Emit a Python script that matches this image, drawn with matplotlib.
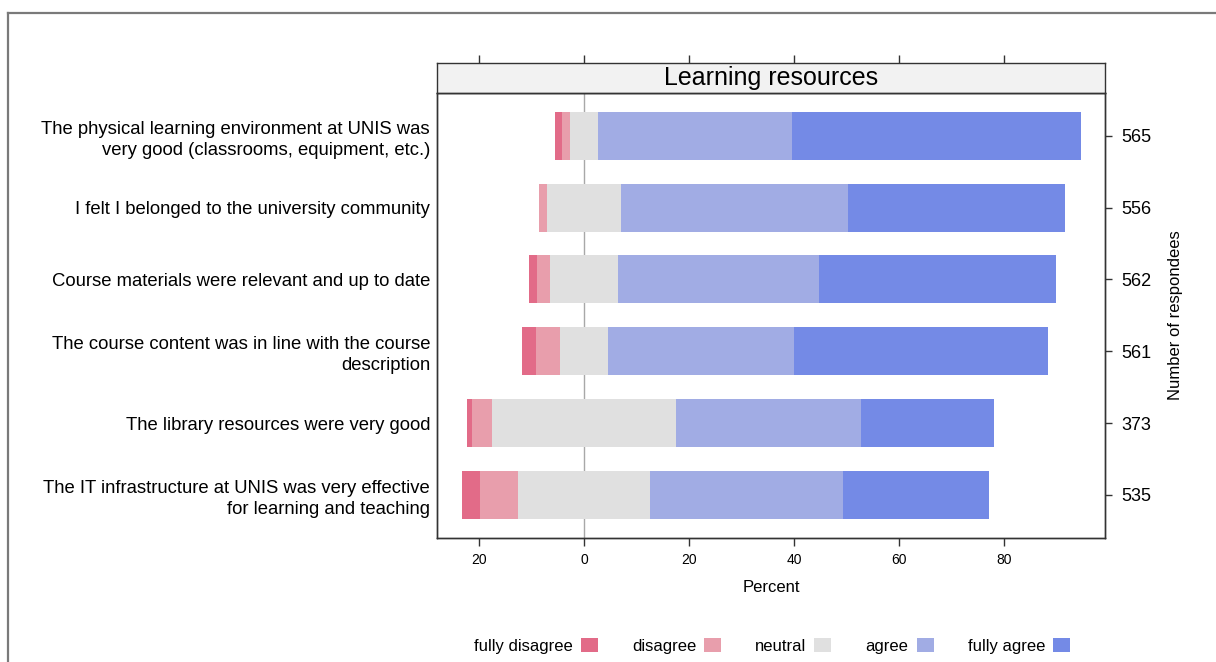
import numpy as np
import matplotlib
matplotlib.use("Agg")
import matplotlib.pyplot as plt
from matplotlib.ticker import FuncFormatter
from matplotlib.lines import Line2D
from matplotlib.patches import Patch

plt.rcParams['font.family'] = ['Liberation Sans', 'DejaVu Sans']

# Survey items, top to bottom as shown
questions = [
    "The physical learning environment at UNIS was\nvery good (classrooms, equipment, etc.)",
    "I felt I belonged to the university community",
    "Course materials were relevant and up to date",
    "The course content was in line with the course\ndescription",
    "The library resources were very good",
    "The IT infrastructure at UNIS was very effective\nfor learning and teaching",
]
respondents = [565, 556, 562, 561, 373, 535]

# Percent of answers per level
levels = ["fully disagree", "disagree", "neutral", "agree", "fully agree"]
fully_disagree = [1.4, 0.0, 1.4, 2.7, 1.0, 3.4]
disagree = [1.5, 1.6, 2.6, 4.6, 3.7, 7.1]
neutral = [5.3, 14.0, 12.9, 9.0, 35.2, 25.3]
agree = [37.0, 43.2, 38.2, 35.5, 35.2, 36.6]
fully_agree = [55.0, 41.4, 45.2, 48.4, 25.2, 27.9]

colors = ["#E26B88", "#E89EAC", "#E0E0E0", "#A1ACE4", "#748AE6"]
edge = "#333333"

W, H = 1216, 662
fig = plt.figure(figsize=(W / 100, H / 100), dpi=100)

# outer frame (top and left only)
fig.add_artist(Line2D([8 / W, 1], [1 - 13 / H] * 2, transform=fig.transFigure, color="#7a7a7a", lw=1.6))
fig.add_artist(Line2D([8 / W] * 2, [0, 1 - 13 / H], transform=fig.transFigure, color="#7a7a7a", lw=1.6))

L, R = 437 / W, 1105 / W
ax = fig.add_axes([L, 1 - 538 / H, R - L, (538 - 92.7) / H])
strip = fig.add_axes([L, 1 - 92.7 / H, R - L, (92.7 - 62.7) / H], sharex=ax)

data = np.array([fully_disagree, disagree, neutral, agree, fully_agree])
n = len(questions)
ypos = np.arange(n)[::-1]

ax.axvline(0, color="#A8A8A8", lw=1, zorder=0)
for i in range(n):
    left = -(data[0, i] + data[1, i] + data[2, i] / 2)
    for k in range(len(levels)):
        ax.barh(ypos[i], data[k, i], left=left, height=0.67, color=colors[k], edgecolor="none", zorder=2)
        left += data[k, i]

ax.set_xlim(-28, 99.2)
ax.set_ylim(-0.6, n - 0.4)
ax.set_xticks([-20, 0, 20, 40, 60, 80])
ax.xaxis.set_major_formatter(FuncFormatter(lambda v, p: f"{abs(v):.0f}"))
ax.tick_params(axis="x", direction="out", length=5.5, width=1, pad=5, labelsize=10, color=edge)
ax.set_yticks(ypos)
ax.set_yticklabels(questions, fontsize=13.3, linespacing=1.3)
ax.tick_params(axis="y", length=0, pad=5)
ax.set_xlabel("Percent", fontsize=12, labelpad=10)
for s in ax.spines.values():
    s.set_color(edge)
    s.set_linewidth(1)

ax2 = ax.twinx()
ax2.set_ylim(ax.get_ylim())
ax2.set_yticks(ypos)
ax2.set_yticklabels([str(r) for r in respondents], fontsize=13)
ax2.tick_params(axis="y", direction="out", length=5, width=1, pad=7, color=edge)
ax2.set_ylabel("Number of respondees", fontsize=12, labelpad=12)
for s in ax2.spines.values():
    s.set_color(edge)
    s.set_linewidth(1)

# strip with panel title
strip.set_facecolor("#F2F2F2")
strip.xaxis.tick_top()
strip.tick_params(axis="x", direction="out", length=6, width=1, labeltop=False, labelbottom=False, color=edge)
strip.set_yticks([])
for s in strip.spines.values():
    s.set_color(edge)
    s.set_linewidth(1)
strip.text(0.5, 0.48, "Learning resources", transform=strip.transAxes, ha="center", va="center", fontsize=18)

handles = [Patch(facecolor=c, edgecolor="none", label=l) for c, l in zip(colors, levels)]
fig.legend(handles=handles, loc="center", bbox_to_anchor=(772 / W, 1 - 646 / H), ncol=5, frameon=False,
           markerfirst=False, fontsize=12, handlelength=1.02, handleheight=0.9, handletextpad=0.48,
           columnspacing=2.05, borderpad=0, borderaxespad=0)

fig.savefig("out.png", dpi=100)
